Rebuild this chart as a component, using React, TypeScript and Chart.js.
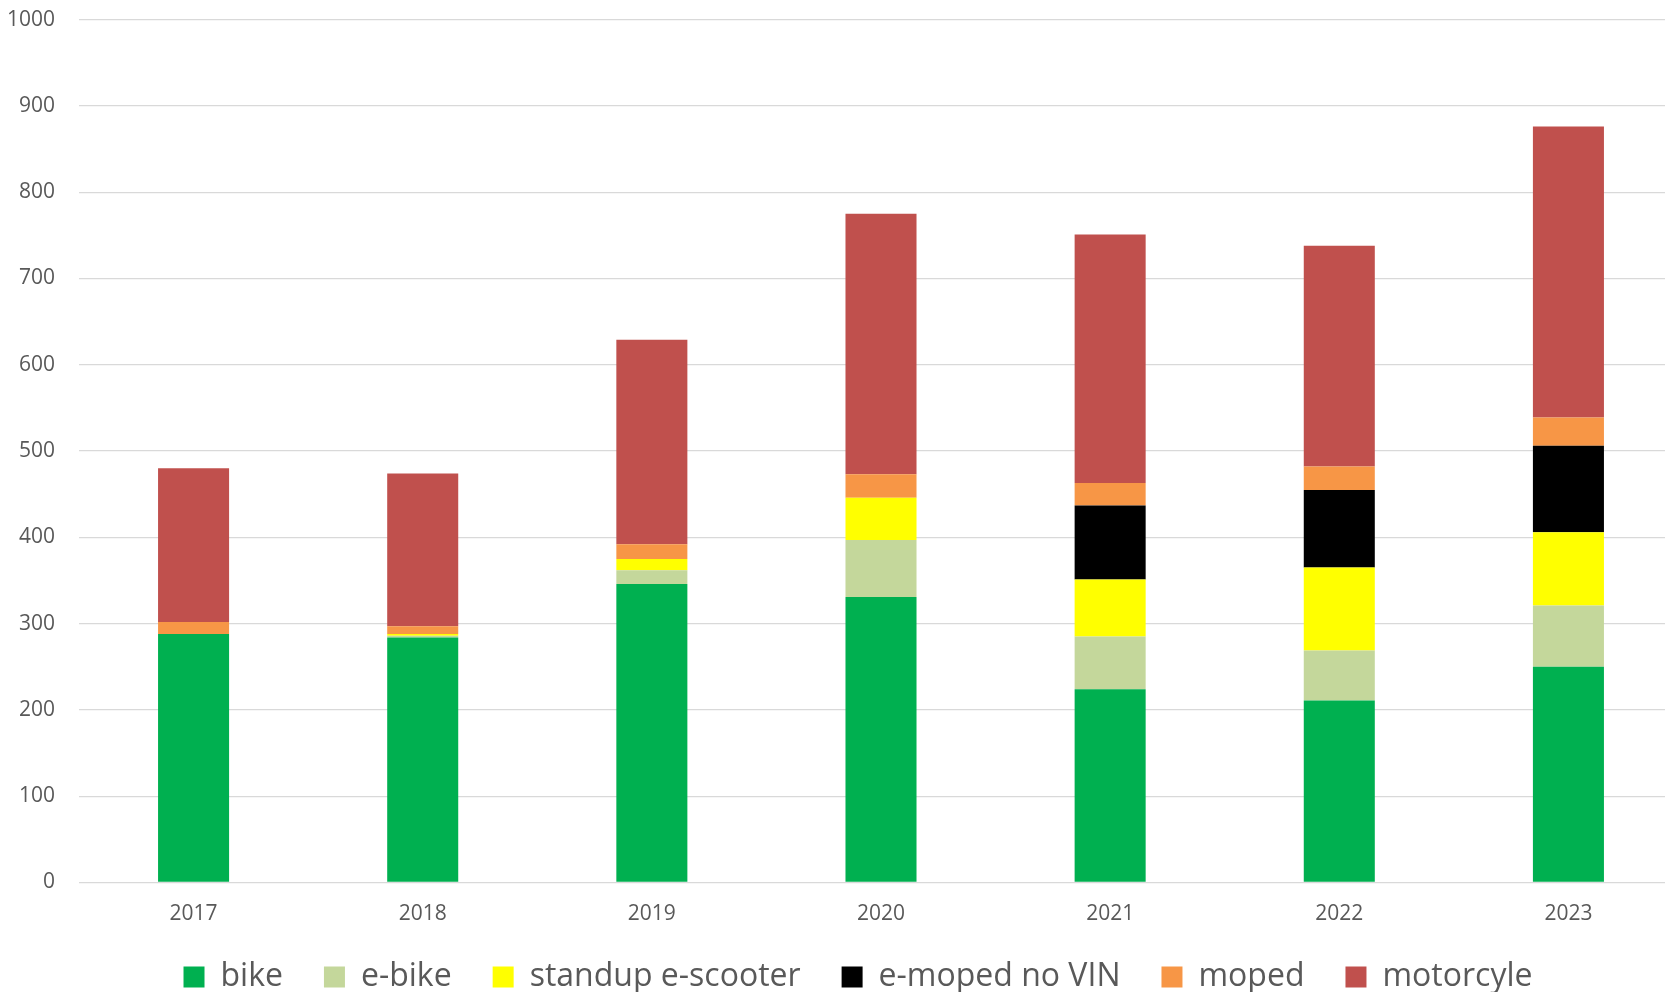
import React, { useEffect, useRef } from "react";
import { Chart, registerables } from "chart.js";

Chart.register(...registerables);

const years = ["2017", "2018", "2019", "2020", "2021", "2022", "2023"];
const bike = [288, 284, 346, 331, 224, 211, 250];
const eBike = [0, 2, 16, 66, 61, 58, 71];
const standupScooter = [0, 2, 13, 49, 66, 96, 85];
const eMopedNoVin = [0, 0, 0, 0, 86, 90, 100];
const moped = [14, 9, 17, 27, 26, 27, 33];
const motorcycle = [178, 177, 237, 302, 288, 256, 337];
const yTicks = [0, 100, 200, 300, 400, 500, 600, 700, 800, 900, 1000];

const seriesNames = ["bike", "e-bike", "standup e-scooter", "e-moped no VIN", "moped", "motorcyle"];
const seriesColors = ["#00b050", "#c4d79b", "#ffff00", "#000000", "#f79646", "#c0504d"];

export default function App() {
  const canvasRef = useRef<HTMLCanvasElement | null>(null);

  useEffect(() => {
    const canvas = canvasRef.current;
    if (!canvas) return;
    const seriesValues = [bike, eBike, standupScooter, eMopedNoVin, moped, motorcycle];
    const font = "'Open Sans', 'DejaVu Sans', sans-serif";
    const chart = new Chart(canvas, {
      type: "bar",
      data: {
        labels: years,
        datasets: seriesValues.map((vals, i) => ({
          label: seriesNames[i],
          data: vals,
          backgroundColor: seriesColors[i],
          borderWidth: 0,
          barPercentage: 0.31,
          categoryPercentage: 1,
        })),
      },
      options: {
        responsive: false,
        animation: false,
        layout: { padding: { top: 0, left: 0, right: 0, bottom: 0 } },
        plugins: {
          tooltip: { enabled: false },
          title: { display: false },
          legend: {
            position: "bottom",
            labels: {
              boxWidth: 21,
              boxHeight: 21,
              padding: 41,
              color: "#595959",
              font: { family: font, size: 32 },
            },
          },
        },
        scales: {
          x: {
            stacked: true,
            grid: { display: false },
            border: { display: false },
            ticks: { color: "#595959", font: { family: font, size: 21 }, padding: 11 },
            afterFit: (s: any) => {
              s.height = 37.5;
            },
          },
          y: {
            stacked: true,
            min: 0,
            max: 1000,
            afterBuildTicks: (s: any) => {
              s.ticks = yTicks.map((v) => ({ value: v }));
            },
            grid: { color: "#d9d9d9", lineWidth: 1.3, drawTicks: false },
            border: { display: false },
            ticks: {
              color: "#595959",
              font: { family: font, size: 21 },
              padding: 24,
              callback: (v: any) => String(v),
            },
            afterFit: (s: any) => {
              s.width = 79;
            },
          },
          y2: {
            position: "right",
            display: true,
            grid: { display: false, drawTicks: false },
            border: { display: false },
            ticks: { display: false },
            afterFit: (s: any) => {
              s.width = 33;
            },
          },
        },
      },
    });
    return () => chart.destroy();
  }, []);

  return (
    <div
      style={{
        position: "fixed",
        left: 0,
        top: 0,
        width: 1665,
        height: 992,
        overflow: "hidden",
        background: "#ffffff",
      }}
    >
      <canvas
        ref={canvasRef}
        width={1716}
        height={1020}
        style={{ display: "block", position: "absolute", left: 0, top: -17 }}
      />
    </div>
  );
}
